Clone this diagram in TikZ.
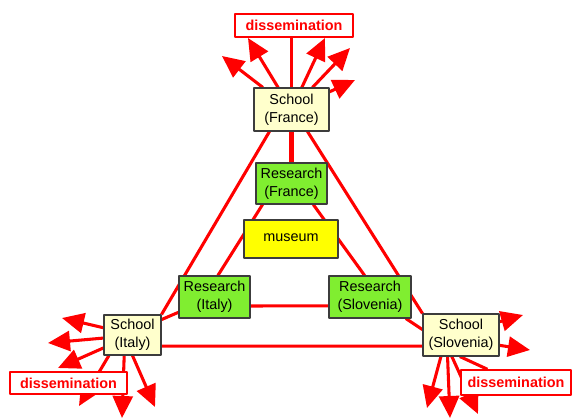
\documentclass[tikz,border=0pt]{standalone}
\usepackage{fontspec}
\setmainfont{Liberation Sans}
\usetikzlibrary{arrows.meta,backgrounds}

\definecolor{linkred}{RGB}{255,0,0}
\definecolor{schoolfill}{RGB}{255,255,204}
\definecolor{researchfill}{RGB}{128,238,48}
\definecolor{museumfill}{RGB}{255,255,0}
\definecolor{boxline}{RGB}{60,60,60}

\begin{document}
\begin{tikzpicture}[x=0.75pt, y=-0.75pt, line join=round,
	box/.style={draw=boxline, line width=0.8pt, inner sep=0pt, align=center,
		font=\fontsize{10.8}{13.5}\selectfont},
	school/.style={box, fill=schoolfill},
	research/.style={box, fill=researchfill},
	dissem/.style={draw=linkred, line width=1.1pt, fill=white, inner sep=0pt,
		text=linkred, font=\fontsize{10.8}{13}\selectfont\bfseries},
	link/.style={draw=linkred, line width=2.3pt},
	fan/.style={link, -{Triangle[length=16.5pt,width=15pt]}}]
	
	\useasboundingbox (0,0) rectangle (572,419);
	
	% schools
	\node[school, minimum width=56.25pt, minimum height=32.25pt] (schF) at (291.5,109.5) {School\\(France)};
	\node[school, minimum width=42.75pt, minimum height=30pt] (schI) at (132.5,335) {School\\(Italy)};
	\node[school, minimum width=57pt, minimum height=31.5pt] (schS) at (461,335) {School\\(Slovenia)};
	
	% research groups and museum
	\node[research, minimum width=53.25pt, minimum height=30.75pt] (resF) at (291.5,183.5) {Research\\(France)};
	\node[research, minimum width=53.25pt, minimum height=31.5pt] (resI) at (214.5,297) {Research\\(Italy)};
	\node[research, minimum width=61.5pt, minimum height=31.5pt] (resS) at (370,297) {Research\\(Slovenia)};
	\node[box, fill=museumfill, minimum width=70.5pt, minimum height=28.5pt] (mus) at (291,239) {\raisebox{2.5pt}{museum}};
	
	% dissemination labels
	\node[dissem, minimum width=88.5pt, minimum height=17.25pt] (dissF) at (294,25.5) {dissemination};
	\node[dissem, minimum width=87.75pt, minimum height=16.5pt] (dissI) at (68.5,383) {dissemination};
	\node[dissem, minimum width=82.5pt, minimum height=18.75pt] (dissS) at (516,382.5) {dissemination};
	
	% free ends of the fans
	\coordinate (fF1) at (222,56);
	\coordinate (fF2) at (248,38);
	\coordinate (fF3) at (325,38);
	\coordinate (fF4) at (350,48);
	\coordinate (fF5) at (355,80);
	\coordinate (fI1) at (62,318);
	\coordinate (fI2) at (48,343);
	\coordinate (fI3) at (58,368);
	\coordinate (fI4) at (79,406);
	\coordinate (fI5) at (122,418);
	\coordinate (fI6) at (155,407);
	\coordinate (fS1) at (523,315);
	\coordinate (fS2) at (530,350);
	\coordinate (fS3) at (427,408);
	\coordinate (fS4) at (450,418);
	\coordinate (fS5) at (478,414);
	
	\begin{scope}[on background layer]
		% outer triangle of schools
		\draw[link] (schF.225) -- (schI.north east);
		\draw[link] (schF.306) -- (schS.north west);
		\draw[link] (schI.-21) -- (schS.196);
		
		% inner triangle of research groups
		\draw[link, line width=3.2pt] (schF) -- (resF);
		\draw[link] (resF.216) -- (resI.81);
		\draw[link] (resF.316) -- (resS.104);
		\draw[link] (resI.-14) -- (resS.192);
		\draw[link] (schI.28) -- (resI.203);
		\draw[link] (schS.172) -- (resS.-31);
		
		% dissemination fans
		\draw[link] (schF) -- (schF |- dissF.south);
		\draw[fan] (schF) -- (fF1);
		\draw[fan] (schF) -- (fF2);
		\draw[fan] (schF) -- (fF3);
		\draw[fan] (schF) -- (fF4);
		\draw[fan] (schF) -- (fF5);
		
		\draw[fan] (schI.166) -- (fI1);
		\draw[fan] (schI.186) -- (fI2);
		\draw[fan] (schI.204) -- (fI3);
		\draw[fan] (schI.221) -- (fI4);
		\draw[fan] (schI.248) -- (fI5);
		\draw[fan] (schI.270) -- (fI6);
		
		\draw[fan] (schS.19) -- (fS1);
		\draw[fan] (schS.-15) -- (fS2);
		\draw[fan] (schS.227) -- (fS3);
		\draw[fan] (schS.238) -- (fS4);
		\draw[fan] (schS.247) -- (fS5);
		\draw[link] (schS.267) -- (dissS);
	\end{scope}
	
\end{tikzpicture}
\end{document}
